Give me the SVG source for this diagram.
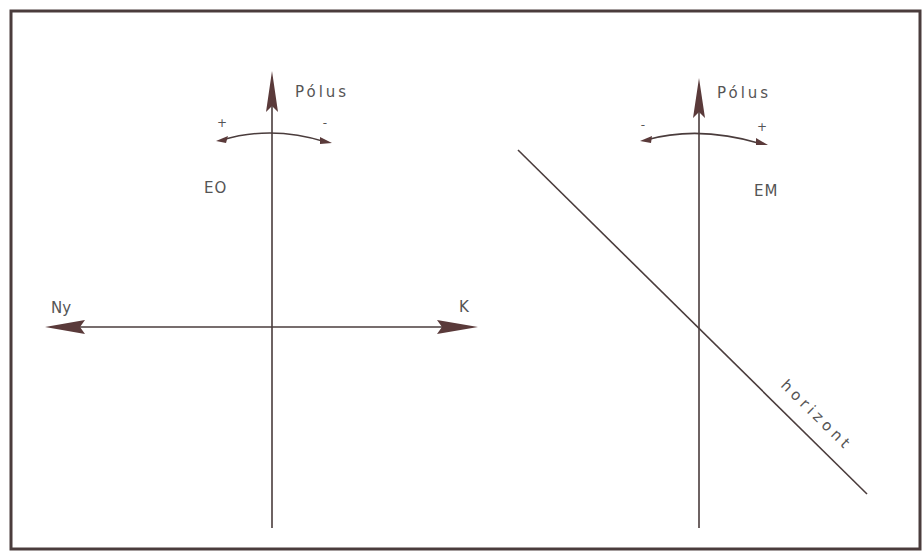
<svg xmlns="http://www.w3.org/2000/svg" width="922" height="552" viewBox="0 0 922 552">
<style>
.ln{stroke:#4a3c3c;stroke-width:1.6;fill:none}
.ah{fill:#5a3a3a;stroke:none}
.t{font-family:"DejaVu Sans","Liberation Sans",sans-serif;fill:#555;font-size:15px}
.s{font-family:"DejaVu Sans","Liberation Sans",sans-serif;fill:#555;font-size:12px}
</style>
<rect x="0" y="0" width="922" height="552" fill="#ffffff"/>
<rect id="frame" x="11" y="11" width="909" height="538" fill="none" stroke="#4a3c3c" stroke-width="3"/>
<g id="connectors">
<line class="ln" x1="272" y1="100" x2="272" y2="528"/>
<polygon class="ah" points="272,71 266,112 272,106 278,112"/>
<line class="ln" x1="60" y1="327" x2="462" y2="327"/>
<polygon class="ah" points="45,327 85,320 80,327 85,334"/>
<polygon class="ah" points="478,327 437,320 442,327 437,334"/>
<path class="ln" d="M222,140 Q272,125 326,142"/>
<polygon class="ah" points="216,141 228,136 226,143"/>
<polygon class="ah" points="332,143 320,137 320,144"/>
<line class="ln" x1="699" y1="105" x2="699" y2="528"/>
<polygon class="ah" points="699,78 693,118 699,112 705,118"/>
<path class="ln" d="M646,140 Q699,125 762,144"/>
<polygon class="ah" points="640,141 652,136 651,143"/>
<polygon class="ah" points="768,145 756,138 756,145"/>
<line class="ln" x1="518" y1="150" x2="867" y2="494"/>
</g>
<g id="labels">
<text class="t" x="295" y="97" letter-spacing="3">Pólus</text>
<text class="t" x="717" y="98" letter-spacing="3">Pólus</text>
<text class="s" x="222" y="127" text-anchor="middle">+</text>
<text class="s" x="325" y="127" text-anchor="middle">-</text>
<text class="s" x="643" y="129" text-anchor="middle">-</text>
<text class="s" x="762" y="131" text-anchor="middle">+</text>
<text class="t" x="204" y="193" letter-spacing="1">EO</text>
<text class="t" x="754" y="196" letter-spacing="1">EM</text>
<text class="t" x="51" y="313">Ny</text>
<text class="t" x="459" y="312">K</text>
<text class="t" x="0" y="0" font-size="13" letter-spacing="4" transform="translate(780,386) rotate(44.6)">horizont</text>
</g>
</svg>
